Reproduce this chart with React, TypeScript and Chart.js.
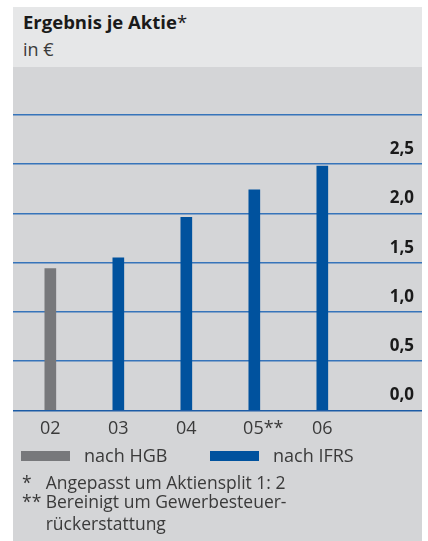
import React, { useEffect, useRef } from 'react';
import { Chart, registerables } from 'chart.js';

Chart.register(...registerables);

// ---- data ----
const categories = ['02', '03', '04', '05**', '06'];
const hgbValues: (number | null)[] = [1.44, null, null, null, null];
const ifrsValues: (number | null)[] = [null, 1.55, 1.96, 2.24, 2.48];
const yTicks = [0, 0.5, 1.0, 1.5, 2.0, 2.5, 3.0];
const yTickLabels = ['0,0', '0,5', '1,0', '1,5', '2,0', '2,5', ''];
const seriesNames = ['nach HGB', 'nach IFRS'];
const footnotes = [
  ['*', 'Angepasst um Aktiensplit 1: 2'],
  ['**', 'Bereinigt um Gewerbesteuer-'],
  ['', 'rückerstattung'],
];

const FONT = '"Open Sans", "Noto Sans", sans-serif';
const GRAY = '#77787b';
const BLUE = '#00529e';

function toPoints(vals: (number | null)[]) {
  return vals
    .map((v, i) => (v === null ? null : { x: i, y: v }))
    .filter((p) => p !== null) as { x: number; y: number }[];
}

function T(props: { left: number; base: number; size: number; bold?: boolean; color?: string; children: React.ReactNode }) {
  const { left, base, size, bold, color, children } = props;
  return (
    <div
      style={{
        position: 'absolute',
        left,
        top: base - 0.988 * size,
        fontSize: size,
        lineHeight: `${size * 1.2}px`,
        fontWeight: bold ? 700 : 400,
        color: color || '#3a3a3a',
        whiteSpace: 'nowrap',
        fontFamily: FONT,
      }}
    >
      {children}
    </div>
  );
}

export default function App() {
  const ref = useRef<HTMLCanvasElement>(null);

  useEffect(() => {
    if (!ref.current) return;
    const chart = new Chart(ref.current, {
      type: 'bar',
      data: {
        datasets: [
          { label: seriesNames[0], data: toPoints(hgbValues), backgroundColor: GRAY, barThickness: 11, grouped: false } as any,
          { label: seriesNames[1], data: toPoints(ifrsValues), backgroundColor: BLUE, barThickness: 11, grouped: false } as any,
        ],
      },
      options: {
        animation: false,
        responsive: false,
        maintainAspectRatio: false,
        layout: { padding: { top: 48, bottom: 7, left: 0, right: 0 } },
        plugins: { legend: { display: false }, tooltip: { enabled: false } },
        scales: {
          x: {
            type: 'linear',
            offset: false,
            min: -0.549,
            max: 5.466,
            grid: { display: false },
            border: { display: false },
            afterBuildTicks: (s: any) => {
              s.ticks = categories.map((_, i) => ({ value: i }));
            },
            ticks: {
              autoSkip: false,
              maxRotation: 0,
              padding: 0,
              color: '#3a3a3a',
              font: { family: FONT, size: 18 },
              // footnote stars hang to the right of the centred year
              callback: (v: any) => {
                const c = categories[v as number];
                return c.endsWith('**') ? '\u2003' + c : c;
              },
            },
          },
          y: {
            position: 'right',
            min: 0,
            max: 3,
            afterBuildTicks: (s: any) => {
              s.ticks = yTicks.map((v) => ({ value: v }));
            },
            afterFit: (s: any) => {
              s.width = 0;
            },
            grid: {
              color: (ctx: any) => (ctx.tick && ctx.tick.value === 0 ? '#1c5ca6' : '#3674ba'),
              lineWidth: 1.5,
              drawTicks: false,
            },
            border: { display: false },
            ticks: {
              mirror: true,
              padding: -8,
              labelOffset: -15,
              color: '#1a1a1a',
              font: { family: FONT, size: 17, weight: 'bold' },
              callback: (v: any) => yTickLabels[yTicks.indexOf(v as number)],
            },
          },
        },
      } as any,
    });
    return () => chart.destroy();
  }, []);

  return (
    <div style={{ position: 'absolute', left: 0, top: 0, width: 428, height: 541, background: '#fff', overflow: 'hidden', fontFamily: FONT }}>
      <div style={{ position: 'absolute', left: 13, top: 7, width: 409, height: 534, background: '#d4d5d7' }} />
      <div style={{ position: 'absolute', left: 13, top: 7, width: 409, height: 60, background: '#e6e7e8' }} />
      <T left={23} base={29} size={18.5} bold color="#1a1a1a">
        Ergebnis je Aktie<span style={{ fontWeight: 400 }}>*</span>
      </T>
      <T left={23} base={56.7} size={18} color="#3a3a3a">in €</T>
      <canvas ref={ref} width={409} height={380} style={{ position: 'absolute', left: 13, top: 67, width: 409, height: 380 }} />
      <div style={{ position: 'absolute', left: 21, top: 451, width: 49, height: 10, background: GRAY }} />
      <T left={84} base={462.3} size={18}>{seriesNames[0]}</T>
      <div style={{ position: 'absolute', left: 210, top: 451, width: 49, height: 10, background: BLUE }} />
      <T left={273} base={462.3} size={18}>{seriesNames[1]}</T>
      <T left={22} base={489} size={17.5}>{footnotes[0][0]}</T>
      <T left={45.7} base={489} size={17.5}>{footnotes[0][1]}</T>
      <T left={22} base={508.5} size={17.5}>{footnotes[1][0]}</T>
      <T left={45.7} base={508.5} size={17.5}>{footnotes[1][1]}</T>
      <T left={45.7} base={530} size={17.5}>{footnotes[2][1]}</T>
    </div>
  );
}
